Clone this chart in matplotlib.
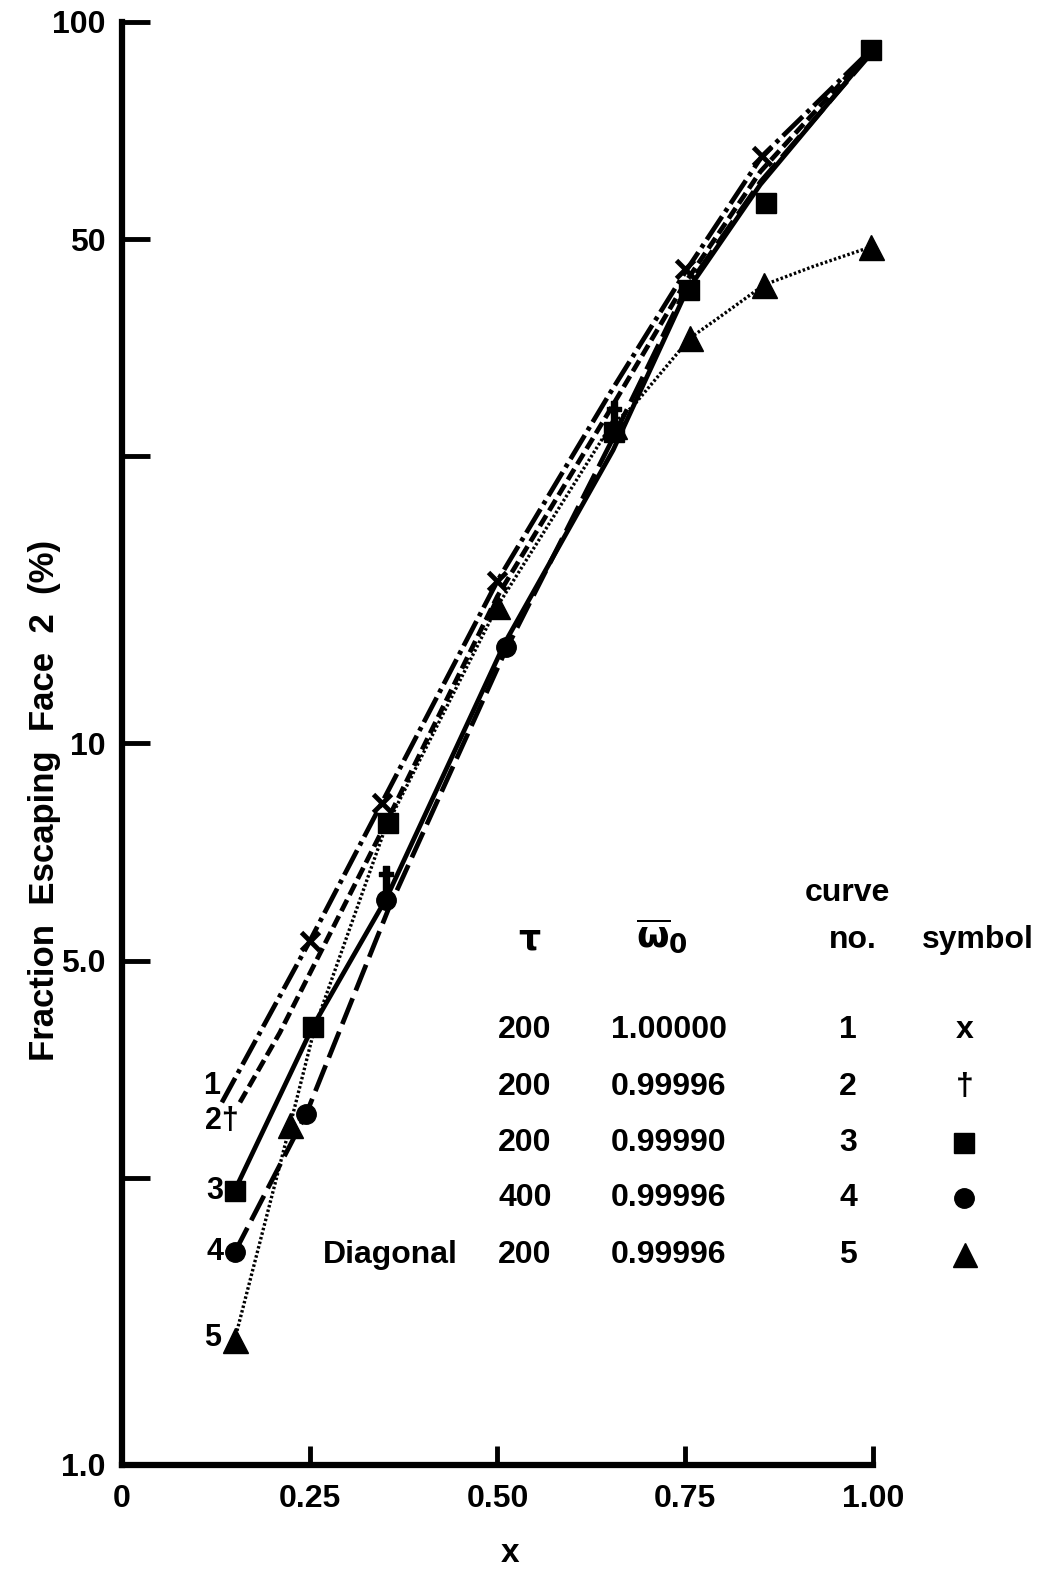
import numpy as np
import matplotlib
matplotlib.use("Agg")
import matplotlib.pyplot as plt
from matplotlib.ticker import NullLocator

plt.rcParams['font.family'] = ['Liberation Sans', 'DejaVu Sans']
plt.rcParams['font.weight'] = 'bold'
plt.rcParams['mathtext.default'] = 'bf'
plt.rcParams['lines.scale_dashes'] = False

# curve traces: x vs fraction escaping face 2 (%)
x1 = [0.133, 0.25, 0.346, 0.50, 0.65, 0.75, 0.852, 1.0]
y1 = [3.18, 5.32, 8.27, 16.8, 30.6, 45.0, 65.1, 92.0]

x2 = [0.157, 0.21, 0.35, 0.50, 0.65, 0.75, 0.85, 1.0]
y2 = [3.18, 3.97, 7.7, 16.0, 29.0, 43.5, 62.0, 92.0]

x3 = [0.15, 0.254, 0.352, 0.51, 0.654, 0.75, 0.85, 1.0]
y3 = [2.40, 4.05, 6.1, 13.8, 25.5, 42.0, 59.5, 91.5]

x4 = [0.15, 0.245, 0.355, 0.51, 0.65, 0.75, 0.85, 1.0]
y4 = [1.97, 3.06, 5.9, 13.4, 26.0, 42.5, 60.0, 91.0]

x5 = [0.15, 0.224, 0.257, 0.35, 0.50, 0.65, 0.68, 0.757, 0.796, 0.855, 0.92, 0.998]
y5 = [1.49, 2.96, 4.05, 7.6, 15.5, 27.5, 29.3, 36.5, 39.0, 43.2, 45.8, 48.8]

# plotted symbols
cross_x = [0.25, 0.346, 0.50, 0.75, 0.852]
cross_y = [5.32, 8.27, 16.8, 45.5, 65.1]
dagger_x = [0.352, 0.655]
dagger_y = [6.47, 28.5]
square_x = [0.15, 0.254, 0.354, 0.655, 0.755, 0.857, 0.997]
square_y = [2.40, 4.05, 7.76, 27.0, 42.5, 56.1, 91.5]
circle_x = [0.15, 0.245, 0.352, 0.511]
circle_y = [1.97, 3.06, 6.07, 13.6]
tri_x = [0.15, 0.224, 0.50, 0.655, 0.757, 0.855, 0.998]
tri_y = [1.49, 2.96, 15.5, 27.5, 36.5, 43.2, 48.8]

# axis ticks
x_ticks = [0, 0.25, 0.50, 0.75, 1.00]
x_tick_labels = ['0', '0.25', '0.50', '0.75', '1.00']
y_ticks = [1, 2.5, 5, 10, 25, 50, 100]
y_tick_labels = ['1.0', '', '5.0', '10', '', '50', '100']

# table of cases
geometry = ['', '', '', '', 'Diagonal']
tau = ['200', '200', '200', '400', '200']
omega = ['1.00000', '0.99996', '0.99990', '0.99996', '0.99996']
curve_no = ['1', '2', '3', '4', '5']

fig = plt.figure(figsize=(10.5, 15.74), dpi=100)
ax = fig.add_axes([0.1162, 0.0693, 0.7152, 0.9168])
ax.set_yscale('log')
ax.set_xlim(0, 1)
ax.set_ylim(1, 100)

lw = 3.4
ax.plot(x1, y1, color='black', lw=lw, dashes=(20, 4, 3, 4), clip_on=False)
ax.plot(x2, y2, color='black', lw=lw, dashes=(9, 4), clip_on=False)
ax.plot(x3, y3, color='black', lw=lw, clip_on=False)
ax.plot(x4, y4, color='black', lw=lw, dashes=(20, 6), clip_on=False)
ax.plot(x5, y5, color='black', lw=2.4, dashes=(1.8, 1.6), clip_on=False)

ax.plot(cross_x, cross_y, 'x', color='black', ms=13, mew=3.5, clip_on=False, zorder=4)
ax.plot(dagger_x, dagger_y, ls='none', marker=r'$\dagger$', color='black', ms=20,
        clip_on=False, zorder=4)
ax.plot(square_x, square_y, 's', color='black', ms=15, clip_on=False, zorder=4)
ax.plot(circle_x, circle_y, 'o', color='black', ms=14, clip_on=False, zorder=4)
ax.plot(tri_x, tri_y, '^', color='black', ms=18, clip_on=False, zorder=4)

# curve numbers at the left ends
ax.text(0.13, 3.35, '1', fontsize=22, ha='right', va='center')
ax.text(0.155, 3.0, '2\u2020', fontsize=22, ha='right', va='center')
ax.text(0.135, 2.40, '3', fontsize=22, ha='right', va='center')
ax.text(0.135, 1.97, '4', fontsize=22, ha='right', va='center')
ax.text(0.132, 1.50, '5', fontsize=22, ha='right', va='center')

for s in ['top', 'right']:
    ax.spines[s].set_visible(False)
for s in ['left', 'bottom']:
    ax.spines[s].set_linewidth(4.5)

ax.set_xticks(x_ticks)
ax.set_xticklabels(x_tick_labels)
ax.set_yticks(y_ticks)
ax.set_yticklabels(y_tick_labels)
ax.yaxis.set_minor_locator(NullLocator())
ax.tick_params(axis='y', direction='in', length=20, width=3.5, labelsize=23, pad=12)
ax.tick_params(axis='x', direction='in', length=14, width=3.5, labelsize=23, pad=14)

fig.text(45 / 1050, 1 - 800 / 1574, 'Fraction  Escaping  Face  2  (%)', rotation=90,
         fontsize=25, ha='center', va='center')
fig.text(510 / 1050, 1 - 1553 / 1574, 'x', fontsize=24, ha='center', va='center')

# legend table
def fx(px):
    return px / 1050

def fy(py):
    return 1 - py / 1574

fs = 23
fig.text(fx(530), fy(940), r'$\tau$', fontsize=fs + 2, ha='center', va='center')
fig.text(fx(662), fy(936), r'$\overline{\omega}_0$', fontsize=fs + 4, ha='center', va='center')
fig.text(fx(847), fy(893), 'curve', fontsize=fs, ha='center', va='center')
fig.text(fx(853), fy(940), 'no.', fontsize=fs, ha='center', va='center')
fig.text(fx(978), fy(940), 'symbol', fontsize=fs, ha='center', va='center')

row_y = [1030, 1087, 1143, 1198, 1255]
for i, py in enumerate(row_y):
    if geometry[i]:
        fig.text(fx(458), fy(py), geometry[i], fontsize=fs, ha='right', va='center')
    fig.text(fx(525), fy(py), tau[i], fontsize=fs, ha='center', va='center')
    fig.text(fx(669), fy(py), omega[i], fontsize=fs, ha='center', va='center')
    fig.text(fx(848), fy(py), curve_no[i], fontsize=fs, ha='center', va='center')

fig.text(fx(965), fy(row_y[0]), 'x', fontsize=fs, ha='center', va='center')
fig.text(fx(965), fy(row_y[1]), '\u2020', fontsize=fs, ha='center', va='center')
ax.plot([fx(964)], [fy(row_y[2])], 's', color='black', ms=14, transform=fig.transFigure, clip_on=False)
ax.plot([fx(964)], [fy(row_y[3])], 'o', color='black', ms=14, transform=fig.transFigure, clip_on=False)
ax.plot([fx(965)], [fy(row_y[4])], '^', color='black', ms=17, transform=fig.transFigure, clip_on=False)

fig.savefig('out.png', dpi=100)
